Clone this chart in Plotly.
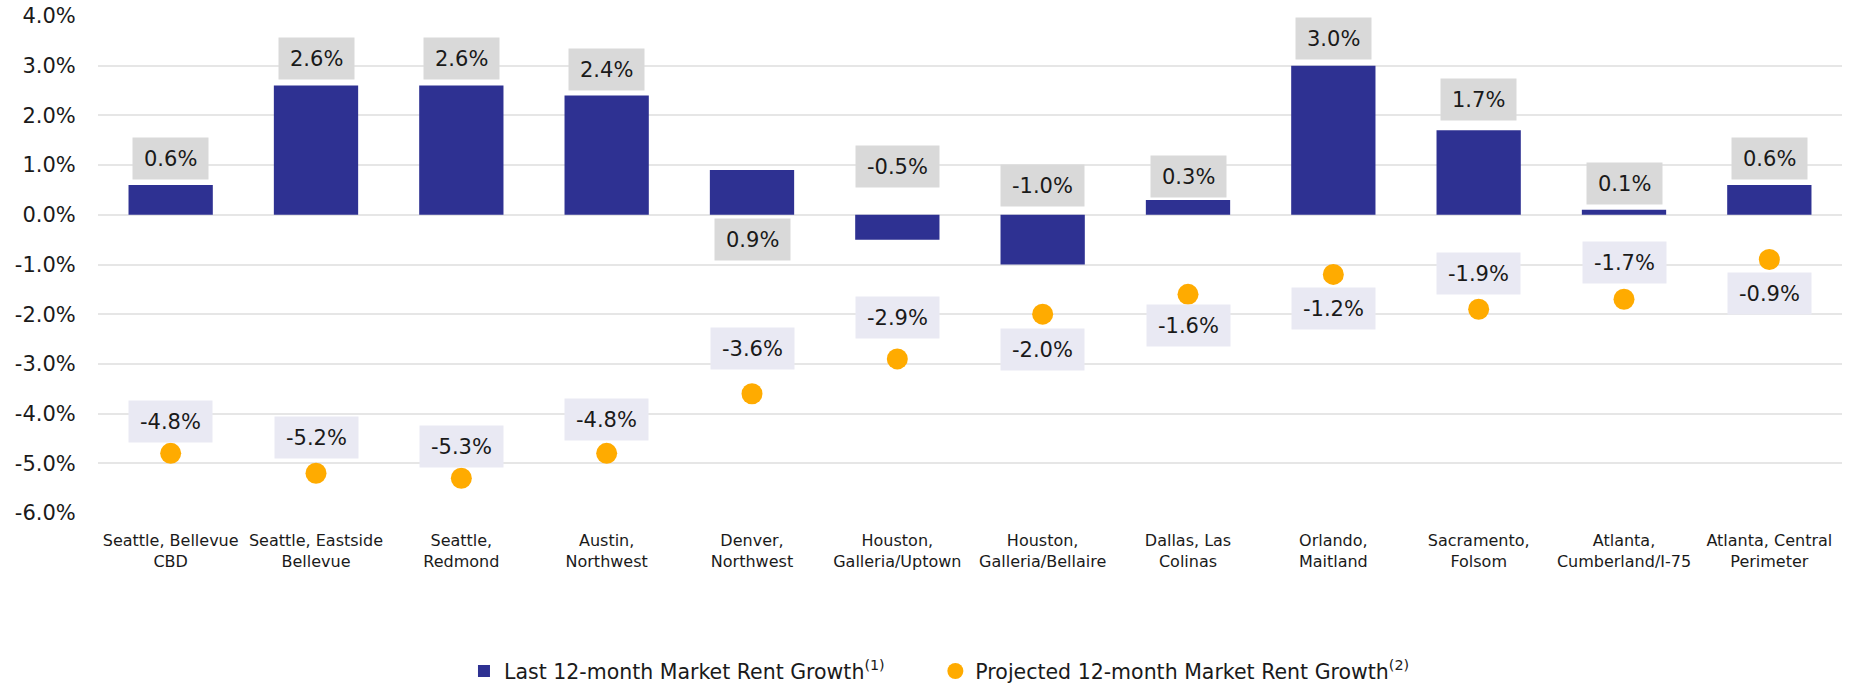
import plotly.graph_objects as go

categories = [
    "Seattle, Bellevue<br>CBD", "Seattle, Eastside<br>Bellevue", "Seattle,<br>Redmond",
    "Austin,<br>Northwest", "Denver,<br>Northwest", "Houston,<br>Galleria/Uptown",
    "Houston,<br>Galleria/Bellaire", "Dallas, Las<br>Colinas", "Orlando,<br>Maitland",
    "Sacramento,<br>Folsom", "Atlanta,<br>Cumberland/I-75", "Atlanta, Central<br>Perimeter",
]
last_12m = [0.6, 2.6, 2.6, 2.4, 0.9, -0.5, -1.0, 0.3, 3.0, 1.7, 0.1, 0.6]
projected_12m = [-4.8, -5.2, -5.3, -4.8, -3.6, -2.9, -2.0, -1.6, -1.2, -1.9, -1.7, -0.9]
y_ticks = [4, 3, 2, 1, 0, -1, -2, -3, -4, -5, -6]

# label placement (pixels, style only)
bar_label_shift = [26, 27, 27, 26, -69, 48, 29, 23, 27, 31, 26, 26]
proj_label_shift = [32, 36, 32, 34, 45, 41, -35, -31, -34, 36, 37, -34]

FONT = "DejaVu Sans"
NAVY = "#2E3192"
ORANGE = "#FFAB00"
LABEL_SIZE = 21
NBSP = "\u00a0"

# approximate glyph advance widths (em) for label box sizing
GLYPH_EM = {"-": 0.361, ".": 0.318, "%": 0.95}


def label_width(txt):
    return sum(GLYPH_EM.get(ch, 0.636) for ch in txt) * LABEL_SIZE + 10


fig = go.Figure()
fig.add_trace(go.Bar(
    x=categories, y=last_12m,
    name="Last 12-month Market Rent Growth<sup>(1)</sup>" + NBSP * 7,
    marker=dict(color=NAVY, line=dict(width=0)),
))
fig.add_trace(go.Scatter(
    x=categories, y=projected_12m, mode="markers",
    name="Projected 12-month Market Rent Growth<sup>(2)</sup>",
    marker=dict(color=ORANGE, size=21, line=dict(width=0)),
))

annotations = []
for c, v, s in zip(categories, last_12m, bar_label_shift):
    t = f"{v:.1f}%"
    annotations.append(dict(
        x=c, y=max(v, 0), xref="x", yref="y", text=t, showarrow=False,
        yanchor="middle", yshift=s, bgcolor="#D9D9D9", borderpad=6,
        width=label_width(t), height=29,
        font=dict(family=FONT, size=LABEL_SIZE, color="#1a1a1a"),
    ))
for c, v, s in zip(categories, projected_12m, proj_label_shift):
    t = f"{v:.1f}%"
    annotations.append(dict(
        x=c, y=v, xref="x", yref="y", text=t, showarrow=False,
        yanchor="middle", yshift=s, bgcolor="#E9E9F3", borderpad=6,
        width=label_width(t), height=29,
        font=dict(family=FONT, size=LABEL_SIZE, color="#1a1a1a"),
    ))

fig.update_layout(
    width=1851, height=684,
    margin=dict(l=98, r=9, t=15, b=170, autoexpand=False),
    paper_bgcolor="white", plot_bgcolor="white",
    bargap=0.42,
    font=dict(family=FONT, color="#1a1a1a"),
    showlegend=True,
    legend=dict(orientation="h", x=0.4825, xanchor="center", y=-0.315, yanchor="middle",
                font=dict(family=FONT, size=20.5, color="#1a1a1a"), itemwidth=30,
                traceorder="normal"),
    annotations=annotations,
)
fig.update_xaxes(
    range=[-0.5, len(categories) - 0.5],
    showgrid=False, showline=False, zeroline=False, ticks="",
    tickfont=dict(family=FONT, size=16, color="#1a1a1a"), tickangle=0,
    ticklabelstandoff=15,
)
fig.update_yaxes(
    range=[-6.02, 4.02], tickvals=y_ticks, ticktext=[f"{t:.1f}%" for t in y_ticks],
    showgrid=True, gridcolor="#E6E6E6", gridwidth=2, zeroline=False, showline=False,
    tickfont=dict(family=FONT, size=LABEL_SIZE, color="#1a1a1a"),
    ticks="outside", ticklen=17, tickcolor="rgba(0,0,0,0)",
)

fig.write_html("out.html", config={"displayModeBar": False},
               post_script="document.body.style.margin='0';")
